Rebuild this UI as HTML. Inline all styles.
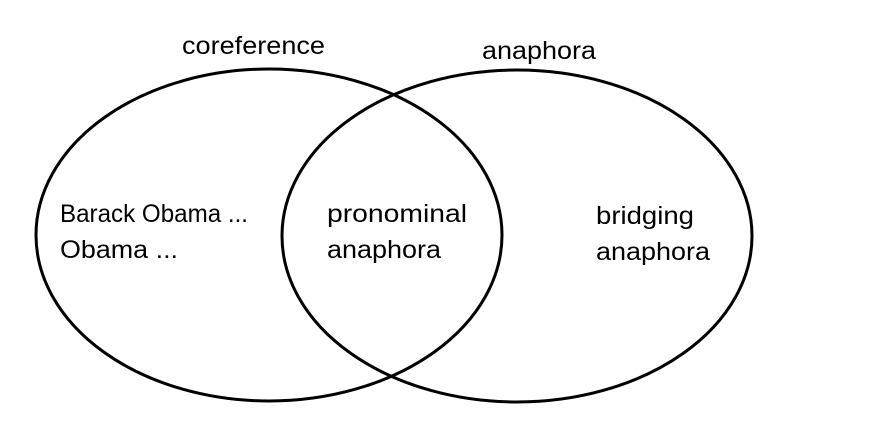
<!DOCTYPE html>
<html><head><meta charset="utf-8"><style>html,body{margin:0;padding:0;background:#fff}svg{display:block}</style></head>
<body>
<svg width="881" height="435" viewBox="0 0 881 435" xmlns="http://www.w3.org/2000/svg">
<rect width="881" height="435" fill="#fff"/>
<g fill="none" stroke="#000" stroke-width="3">
<ellipse cx="269" cy="235" rx="233" ry="166"/>
<ellipse cx="517" cy="236" rx="235" ry="166"/>
</g>
<g font-family="Liberation Sans, sans-serif" font-size="25" fill="#000">
<text x="182" y="54" textLength="143" lengthAdjust="spacingAndGlyphs">coreference</text>
<text x="482" y="59" textLength="114" lengthAdjust="spacingAndGlyphs">anaphora</text>
<text x="60" y="222" textLength="188" lengthAdjust="spacingAndGlyphs">Barack Obama ...</text>
<text x="60" y="258" textLength="118" lengthAdjust="spacingAndGlyphs">Obama ...</text>
<text x="327" y="222" textLength="140" lengthAdjust="spacingAndGlyphs">pronominal</text>
<text x="327" y="258" textLength="114" lengthAdjust="spacingAndGlyphs">anaphora</text>
<text x="596" y="224" textLength="98" lengthAdjust="spacingAndGlyphs">bridging</text>
<text x="596" y="260" textLength="114" lengthAdjust="spacingAndGlyphs">anaphora</text>
</g>
</svg>
</body></html>
